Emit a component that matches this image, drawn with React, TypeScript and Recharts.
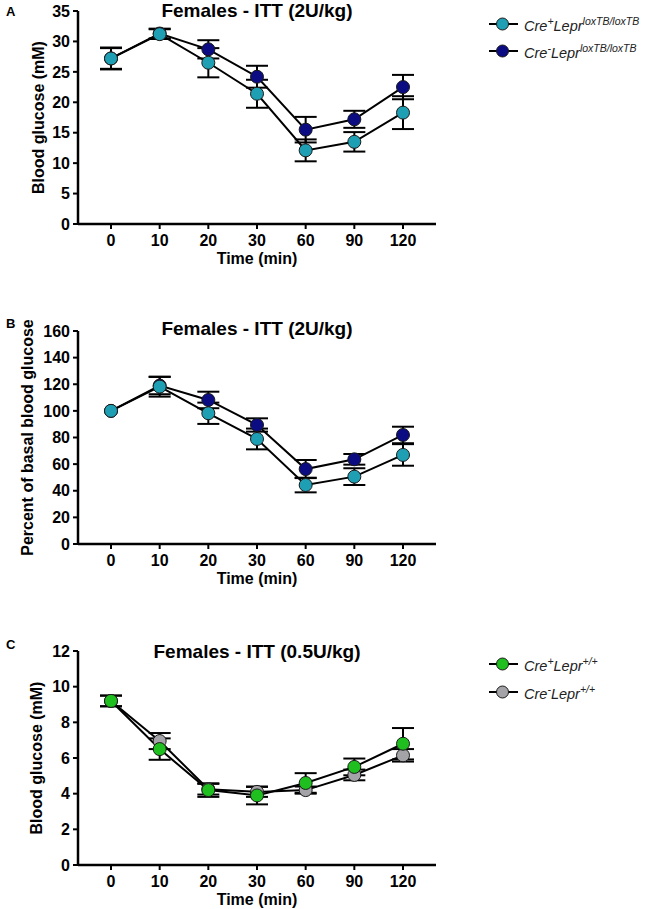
import React from 'react';
import { LineChart, Line, XAxis, YAxis, ErrorBar } from 'recharts';

const times = ['0', '10', '20', '30', '60', '90', '120'];

// Panel A: blood glucose (mM), 2U/kg
const aCrePos = [27.2, 31.2, 26.5, 21.4, 12.1, 13.5, 18.3];
const aCrePosSem = [1.7, 0.8, 2.4, 2.3, 1.8, 1.6, 2.7];
const aCreNeg = [27.2, 31.3, 28.7, 24.2, 15.5, 17.2, 22.5];
const aCreNegSem = [1.8, 0.8, 1.5, 1.8, 2.1, 1.4, 2.0];

// Panel B: percent of basal blood glucose
const bCrePos = [100, 118.2, 98.2, 78.9, 44.3, 50.6, 66.9];
const bCrePosSem = [0, 7.5, 8, 7.8, 5.5, 6.3, 8.1];
const bCreNeg = [100, 119, 108.2, 89.4, 56.3, 63.6, 81.9];
const bCreNegSem = [0, 6.5, 6.2, 5, 6.8, 4, 6.2];

// Panel C: blood glucose (mM), 0.5U/kg
const cCrePos = [9.2, 6.5, 4.2, 3.9, 4.6, 5.5, 6.8];
const cCrePosSem = [0.3, 0.6, 0.38, 0.5, 0.55, 0.47, 0.88];
const cCreNeg = [9.2, 6.95, 4.25, 4.1, 4.2, 5.05, 6.15];
const cCreNegSem = [0.3, 0.45, 0.3, 0.28, 0.2, 0.3, 0.35];

const aTicks = [0, 5, 10, 15, 20, 25, 30, 35];
const bTicks = [0, 20, 40, 60, 80, 100, 120, 140, 160];
const cTicks = [0, 2, 4, 6, 8, 10, 12];

const CYAN = '#1f9fb3';
const NAVY = '#0b0b82';
const GREEN = '#1fbf1f';
const GREY = '#a3a3a8';

const FONT = '"Liberation Sans", Arial, sans-serif';

const build = (a: number[], aSem: number[], b: number[], bSem: number[]) =>
  times.map((t, i) => ({ time: t, pos: a[i], posErr: aSem[i], neg: b[i], negErr: bSem[i] }));

const tickStyle = { fontSize: 16, fontWeight: 700, fill: '#000', fontFamily: FONT };
const labelStyle = { fontSize: 16, fontWeight: 700, fill: '#000', fontFamily: FONT };

type PanelProps = {
  top: number;
  height: number;
  data: ReturnType<typeof build>;
  ticks: number[];
  max: number;
  yLabel: string;
  yLabelDx: number;
  posColor: string;
  negColor: string;
};

const Panel: React.FC<PanelProps> = ({ top, height, data, ticks, max, yLabel, yLabelDx, posColor, negColor }) => (
  <div style={{ position: 'absolute', left: 0, top }}>
    <LineChart width={649} height={height} data={data} margin={{ top: 11, right: 213, left: 0, bottom: 0 }}>
      <XAxis
        dataKey="time"
        padding={{ left: 33, right: 33 }}
        height={45}
        axisLine={{ stroke: '#000', strokeWidth: 2.5 }}
        tickLine={{ stroke: '#000', strokeWidth: 2 }}
        tickSize={5}
        tickMargin={6}
        tick={tickStyle}
        label={{ value: 'Time (min)', position: 'insideBottom', offset: 5, style: labelStyle }}
      />
      <YAxis
        width={78}
        domain={[0, max]}
        ticks={ticks}
        interval={0}
        axisLine={{ stroke: '#000', strokeWidth: 2.5 }}
        tickLine={{ stroke: '#000', strokeWidth: 2 }}
        tickSize={5}
        tickMargin={3}
        tick={tickStyle}
        label={{ value: yLabel, angle: -90, position: 'center', dx: yLabelDx, style: labelStyle }}
      />
      <Line
        dataKey="neg"
        stroke="#000"
        strokeWidth={2}
        dot={{ r: 6.5, fill: negColor, stroke: '#1a1a1a', strokeWidth: 1 }}
        activeDot={false}
        isAnimationActive={false}
      >
        <ErrorBar dataKey="negErr" width={11} stroke="#000" strokeWidth={2} direction="y" />
      </Line>
      <Line
        dataKey="pos"
        stroke="#000"
        strokeWidth={2}
        dot={{ r: 6.5, fill: posColor, stroke: '#1a1a1a', strokeWidth: 1 }}
        activeDot={false}
        isAnimationActive={false}
      >
        <ErrorBar dataKey="posErr" width={11} stroke="#000" strokeWidth={2} direction="y" />
      </Line>
    </LineChart>
  </div>
);

const Title: React.FC<{ top: number; text: string }> = ({ top, text }) => (
  <div
    style={{
      position: 'absolute',
      left: 57,
      width: 400,
      top,
      textAlign: 'center',
      fontFamily: FONT,
      fontWeight: 700,
      fontSize: 19,
      lineHeight: '22px',
    }}
  >
    {text}
  </div>
);

const PanelLetter: React.FC<{ top: number; text: string }> = ({ top, text }) => (
  <div style={{ position: 'absolute', left: 6, top, fontFamily: FONT, fontWeight: 700, fontSize: 13, lineHeight: '15px' }}>
    {text}
  </div>
);

const LegendRow: React.FC<{ top: number; color: string; sign: string; sup: string }> = ({ top, color, sign, sup }) => (
  <div style={{ position: 'absolute', left: 488, top: top - 11, height: 22, display: 'flex', alignItems: 'center' }}>
    <svg width={31} height={20}>
      <line x1={1} y1={10} x2={30} y2={10} stroke="#000" strokeWidth={2} />
      <circle cx={14.5} cy={10} r={6} fill={color} stroke="#1a1a1a" strokeWidth={1} />
    </svg>
    <span style={{ marginLeft: 5, fontFamily: FONT, fontStyle: 'italic', fontSize: 14.5, color: '#222' }}>
      Cre<sup style={{ fontSize: 10.5 }}>{sign}</sup>Lepr<sup style={{ fontSize: 10.5 }}>{sup}</sup>
    </span>
  </div>
);

export default function App() {
  const dataA = build(aCrePos, aCrePosSem, aCreNeg, aCreNegSem);
  const dataB = build(bCrePos, bCrePosSem, bCreNeg, bCreNegSem);
  const dataC = build(cCrePos, cCrePosSem, cCreNeg, cCreNegSem);

  return (
    <div style={{ position: 'absolute', left: 0, top: 0, width: 649, height: 909, background: '#fff' }}>
      <Panel top={0} height={269} data={dataA} ticks={aTicks} max={35} yLabel="Blood glucose (mM)" yLabelDx={-1} posColor={CYAN} negColor={NAVY} />
      <Panel top={320} height={269} data={dataB} ticks={bTicks} max={160} yLabel="Percent of basal blood glucose" yLabelDx={-12} posColor={CYAN} negColor={NAVY} />
      <Panel top={640} height={270} data={dataC} ticks={cTicks} max={12} yLabel="Blood glucose (mM)" yLabelDx={-3} posColor={GREEN} negColor={GREY} />

      <Title top={0} text="Females - ITT (2U/kg)" />
      <Title top={318} text="Females - ITT (2U/kg)" />
      <Title top={641} text="Females - ITT (0.5U/kg)" />

      <PanelLetter top={4} text="A" />
      <PanelLetter top={316} text="B" />
      <PanelLetter top={637} text="C" />

      <LegendRow top={24} color={CYAN} sign="+" sup="loxTB/loxTB" />
      <LegendRow top={51} color={NAVY} sign="-" sup="loxTB/loxTB" />
      <LegendRow top={664} color={GREEN} sign="+" sup="+/+" />
      <LegendRow top={692} color={GREY} sign="-" sup="+/+" />
    </div>
  );
}
